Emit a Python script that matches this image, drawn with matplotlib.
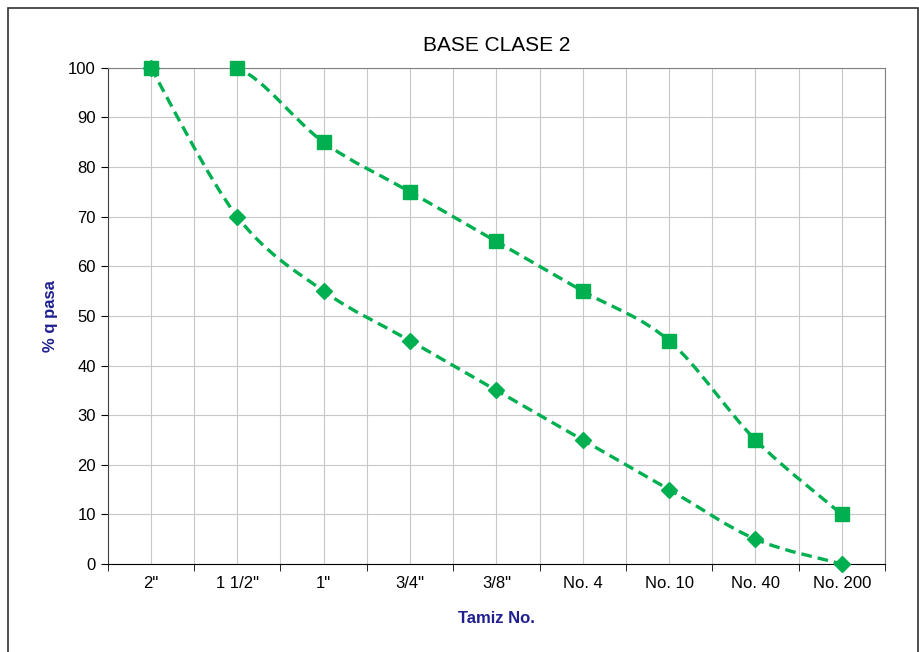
import numpy as np
import matplotlib
matplotlib.use("Agg")
import matplotlib.pyplot as plt
from matplotlib.path import Path
from matplotlib.patches import PathPatch, Rectangle

plt.rcParams['font.family'] = ['Liberation Sans', 'DejaVu Sans']

# datos de la curva granulometrica
tamices = ['2"', '1 1/2"', '1"', '3/4"', '3/8"', 'No. 4', 'No. 10', 'No. 40', 'No. 200']
limite_superior = [100, 100, 85, 75, 65, 55, 45, 25, 10]
limite_inferior = [100, 70, 55, 45, 35, 25, 15, 5, 0]

verde = '#00B050'
azul = '#1F1F8F'


def curva_suave(x, y, t=1 / 6):
    # curva tipo excel (catmull-rom -> bezier)
    x = np.asarray(x, float)
    y = np.asarray(y, float)
    verts = [(x[0], y[0])]
    codes = [Path.MOVETO]
    n = len(x)
    for i in range(n - 1):
        x0, y0 = (x[i - 1], y[i - 1]) if i > 0 else (x[i], y[i])
        x3, y3 = (x[i + 2], y[i + 2]) if i + 2 < n else (x[i + 1], y[i + 1])
        c1 = (x[i] + (x[i + 1] - x0) * t, y[i] + (y[i + 1] - y0) * t)
        c2 = (x[i + 1] - (x3 - x[i]) * t, y[i + 1] - (y3 - y[i]) * t)
        verts += [c1, c2, (x[i + 1], y[i + 1])]
        codes += [Path.CURVE4] * 3
    return Path(verts, codes)


fig = plt.figure(figsize=(9.2, 6.52), dpi=100)
ax = fig.add_axes([0.117, 0.135, 0.845, 0.761])

pos = np.arange(len(tamices))
for serie, marca, tam in [(limite_superior, 's', 10), (limite_inferior, 'D', 8)]:
    ax.add_patch(PathPatch(curva_suave(pos, serie), facecolor='none', edgecolor=verde,
                           lw=2.4, linestyle=(0, (3.2, 1.8)), zorder=3))
    ax.plot(pos, serie, linestyle='none', marker=marca, ms=tam, color=verde,
            markeredgecolor=verde, zorder=4, clip_on=False)

ax.set_xlim(-0.5, len(tamices) - 0.5)
ax.set_ylim(0, 100)
ax.set_yticks(np.arange(0, 101, 10))
ax.set_xticks(pos)
ax.set_xticklabels(tamices)
ax.set_xticks(np.arange(-0.5, len(tamices), 1), minor=True)
ax.tick_params(axis='x', which='major', length=0, pad=9, labelsize=12)
ax.tick_params(axis='x', which='minor', length=5, direction='out')
ax.tick_params(axis='y', length=5, labelsize=12)
ax.grid(True, which='both', color='#c8c8c8', lw=0.8, zorder=0)
for lado in ['top', 'right']:
    ax.spines[lado].set_color('#808080')
ax.spines['left'].set_color('#404040')
ax.spines['bottom'].set_color('black')

ax.set_title('BASE CLASE 2', fontsize=15, pad=12)
ax.set_xlabel('Tamiz No.', fontsize=12, fontweight='bold', color=azul, labelpad=14)
ax.set_ylabel('% q pasa', fontsize=12, fontweight='bold', color=azul, labelpad=7)

# marco exterior
fig.patches.append(Rectangle((8 / 920, -0.01), 910 / 920, 1 - 8 / 652 + 0.01,
                             transform=fig.transFigure, fill=False, edgecolor='#303030', lw=1.2))

plt.savefig('out.png', dpi=100)
